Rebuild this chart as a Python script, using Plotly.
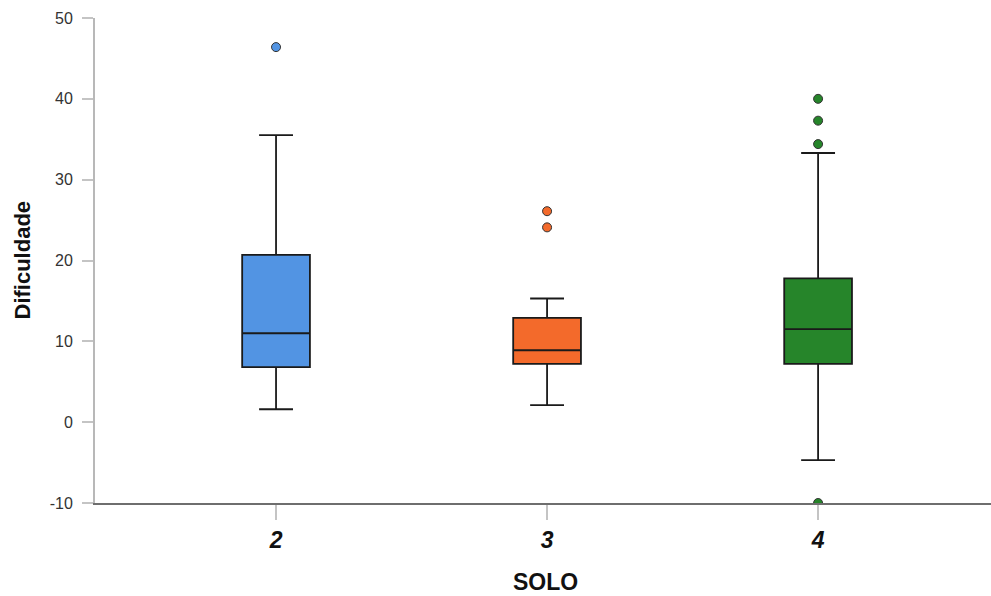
import plotly.graph_objects as go

categories = [2, 3, 4]
cat_labels = ["2", "3", "4"]
y_ticks = [-10, 0, 10, 20, 30, 40, 50]
y_tick_labels = ["-10", "0", "10", "20", "30", "40", "50"]
q1 = [6.8, 7.2, 7.2]
median = [11.0, 8.9, 11.5]
q3 = [20.7, 12.9, 17.8]
lower_whisker = [1.6, 2.1, -4.7]
upper_whisker = [35.5, 15.3, 33.3]
outliers = [[46.4], [26.1, 24.1], [40.0, 37.3, 34.4, -10.0]]
colors = ["#5294e3", "#f36a2b", "#26852a"]

W, H = 991, 596
ML, MR, MT, MB = 95, 0, 18, 93

fig = go.Figure()
for i, c in enumerate(categories):
    fig.add_trace(go.Box(
        x=[c], q1=[q1[i]], median=[median[i]], q3=[q3[i]],
        lowerfence=[lower_whisker[i]], upperfence=[upper_whisker[i]],
        width=0.25, whiskerwidth=0.5, boxpoints=False,
        fillcolor=colors[i], line=dict(color="#1a1a1a", width=1.8),
        showlegend=False, hoverinfo="skip",
    ))
    fig.add_trace(go.Scatter(
        x=[c] * len(outliers[i]), y=outliers[i], mode="markers",
        marker=dict(size=9, color=colors[i], line=dict(color="#333333", width=1)),
        showlegend=False, cliponaxis=True,
    ))

pw = W - ML - MR
ph = H - MT - MB
plot_bottom = H - MB
fig.update_layout(
    width=W, height=H,
    margin=dict(l=ML, r=MR, t=MT, b=MB),
    plot_bgcolor="white", paper_bgcolor="white",
    boxmode="overlay",
    font=dict(family="Liberation Sans, Arial, sans-serif", color="#000"),
    annotations=[
        dict(text="<b>SOLO</b>", xref="paper", yref="paper",
             x=(545 - ML) / pw, y=-(582 - plot_bottom) / ph,
             xanchor="center", yanchor="middle", showarrow=False,
             font=dict(size=23, color="#111")),
        dict(text="<b>Dificuldade</b>", xref="paper", yref="paper",
             x=-(ML - 22) / pw, y=0.5, textangle=-90,
             xanchor="center", yanchor="middle", showarrow=False,
             font=dict(size=22, color="#111")),
    ],
)
fig.update_xaxes(
    range=[1.332, 4.638], tickvals=categories,
    ticktext=["<b><i>" + t + "</i></b>" for t in cat_labels],
    showline=True, linecolor="#6e6e6e", linewidth=1.5,
    ticks="outside", ticklen=15, tickcolor="#c4c4c4", tickwidth=1.5,
    showgrid=False, zeroline=False, automargin=False,
    tickfont=dict(size=23, family="Liberation Sans", color="#111"),
    ticklabelstandoff=1,
)
fig.update_yaxes(
    range=[-10, 50], tickvals=y_ticks, ticktext=y_tick_labels,
    showline=True, linecolor="#b8b8b8", linewidth=2,
    ticks="outside", ticklen=11, tickcolor="#c4c4c4", tickwidth=1.5,
    showgrid=False, zeroline=False, automargin=False,
    tickfont=dict(size=16, color="#333"),
    ticklabelstandoff=6,
)

fig.write_html(
    "out.html",
    config={"displayModeBar": False},
    post_script="document.body.style.margin='0';document.body.style.overflow='hidden';",
)
